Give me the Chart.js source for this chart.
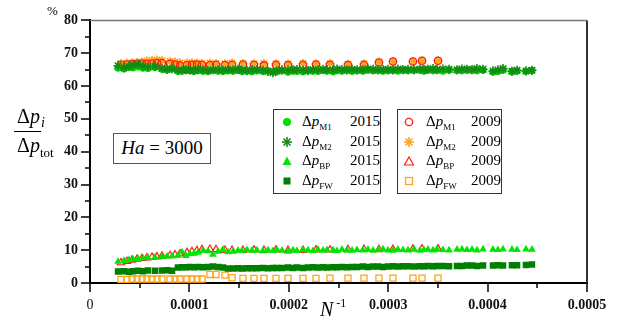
<!DOCTYPE html>
<html>
<head>
<meta charset="utf-8">
<script src="https://cdn.jsdelivr.net/npm/chart.js@4.4.1/dist/chart.umd.min.js"></script>
<style>
  body { margin: 0; background: #fff; }
  #wrap { position: relative; width: 621px; height: 320px; font-family: "Liberation Serif", "Times New Roman", serif; color: #000; }
  #wrap canvas { position: absolute; left: 0; top: 0; }
  .t { position: absolute; white-space: nowrap; }
  .box { position: absolute; box-sizing: border-box; border: 1.5px solid #333; background: #fff; }
  .sub { font-size: 9px; position: relative; top: 4px; }
  .mk { position: absolute; width: 12px; height: 12px; }
</style>
</head>
<body>
<div id="wrap">
  <canvas id="myChart" width="621" height="320"></canvas>

  <div class="t" style="left:47px;top:3px;font-size:13px">%</div>

  <!-- y axis title -->
  <div class="t" style="left:17px;top:106px;font-size:20px;line-height:20px">&Delta;<i>p</i><i style="font-size:14px;position:relative;top:4px;margin-left:1px">i</i></div>
  <div class="t" style="left:14px;top:131px;width:27px;height:1px;background:#000"></div>
  <div class="t" style="left:17px;top:135px;font-size:20px;line-height:20px">&Delta;<i>p</i><span style="font-size:13px;position:relative;top:5px">tot</span></div>

  <!-- x axis title -->
  <div class="t" style="left:320px;top:298px;font-size:20px;line-height:22px"><i>N</i><span style="font-size:12px;position:relative;top:-9px;margin-left:3px">-1</span></div>

  <!-- Ha box -->
  <div class="box" style="left:113px;top:133px;width:98px;height:31px;border-color:#555;text-align:center;line-height:28px;font-size:19px"><i>Ha</i> = 3000</div>

  <!-- legend 2015 -->
  <div class="box" style="left:273px;top:109px;width:108px;height:85px"></div>
  <!-- legend 2009 -->
  <div class="box" style="left:397px;top:109px;width:105px;height:85px"></div>

  <div class="t" style="left:606px;top:288px;width:15px;height:32px;background:#fff"></div>
</div>

<script>
// N^-1 values, 2015 series
const n2015 = [
  2.82e-5, 3.42e-5, 3.92e-5, 4.33e-5, 4.83e-5, 5.33e-5, 5.83e-5, 6.54e-5, 7.24e-5, 7.75e-5,
  8.25e-5, 8.85e-5, 9.26e-5, 9.66e-5, 10.06e-5, 10.46e-5, 10.86e-5, 11.37e-5, 11.87e-5, 12.37e-5,
  12.88e-5, 13.38e-5, 13.88e-5, 14.39e-5, 14.89e-5, 15.29e-5, 15.79e-5, 16.30e-5, 16.80e-5, 17.40e-5,
  17.91e-5, 18.41e-5, 18.81e-5, 19.32e-5, 19.92e-5, 20.42e-5, 20.82e-5, 21.43e-5, 21.93e-5, 22.43e-5,
  22.94e-5, 23.44e-5, 23.84e-5, 24.45e-5, 24.85e-5, 25.35e-5, 25.85e-5, 26.36e-5, 26.86e-5, 27.46e-5,
  27.97e-5, 28.47e-5, 28.97e-5, 29.48e-5, 29.98e-5, 30.48e-5, 30.98e-5, 31.49e-5, 31.99e-5, 32.59e-5,
  33.20e-5, 33.60e-5, 34.00e-5, 34.51e-5, 34.91e-5, 35.51e-5, 36.12e-5, 36.92e-5, 37.42e-5, 37.93e-5,
  38.43e-5, 38.93e-5, 39.54e-5, 40.54e-5, 41.04e-5, 41.55e-5, 42.45e-5, 42.96e-5, 43.86e-5, 44.46e-5
];
const m1_2015 = [
  65.5, 65.3, 65.8, 65.6, 65.9, 65.5, 65.4, 65.7, 65.2, 65.0,
  65.3, 64.5, 64.6, 64.8, 64.7, 64.5, 64.7, 64.6, 64.5, 64.8,
  64.6, 64.5, 64.7, 64.6, 64.8, 64.5, 64.6, 64.4, 64.7, 64.5,
  64.6, 64.4, 64.5, 64.7, 64.3, 64.6, 64.5, 64.4, 64.7, 64.6,
  64.5, 64.8, 64.6, 64.4, 64.7, 64.6, 64.8, 64.5, 64.7, 64.6,
  64.9, 64.7, 64.8, 64.6, 64.7, 64.8, 64.6, 64.8, 64.7, 64.9,
  64.8, 64.6, 64.9, 64.7, 64.8, 64.6, 64.9, 64.8, 64.7, 64.9,
  64.8, 64.7, 64.9, 64.3, 64.5, 64.8, 64.4, 64.6, 64.5, 64.7
];
const m2_2015 = [
  66.2, 65.6, 66.0, 66.4, 66.6, 66.1, 65.8, 66.0, 65.4, 65.1,
  65.3, 64.8, 64.9, 65.0, 64.9, 64.8, 65.1, 64.9, 64.7, 65.0,
  64.9, 64.8, 65.0, 64.9, 65.1, 64.8, 64.7, 64.9, 65.0, 64.8,
  64.5, 64.1, 64.6, 64.9, 64.8, 64.9, 65.0, 64.8, 64.7, 65.0,
  64.9, 65.1, 64.9, 64.8, 65.2, 65.0, 64.9, 65.1, 64.9, 65.0,
  65.2, 65.1, 64.9, 65.0, 65.1, 64.9, 65.2, 65.0, 65.1, 64.9,
  65.2, 65.0, 65.1, 65.3, 65.0, 65.2, 65.1, 64.9, 65.2, 65.1,
  65.0, 65.3, 65.1, 64.6, 64.9, 65.3, 64.5, 64.8, 64.6, 64.8
];
const bp_2015 = [
  6.5, 6.8, 7.0, 7.2, 7.4, 7.6, 7.7, 7.9, 8.0, 8.1,
  8.2, 8.4, 9.4, 8.3, 8.9, 9.0, 9.3, 9.9, 9.7, 8.7,
  9.6, 10.2, 9.4, 9.6, 9.9, 9.8, 10.1, 9.9, 10.0, 9.7,
  10.0, 9.8, 10.1, 9.9, 9.6, 10.0, 9.8, 10.1, 10.0, 9.8,
  10.2, 9.9, 10.1, 10.0, 9.8, 10.2, 10.0, 9.9, 10.1, 10.0,
  10.2, 9.9, 10.1, 10.3, 10.0, 9.9, 10.2, 10.1, 10.0, 10.3,
  9.9, 10.1, 10.2, 10.0, 10.3, 10.1, 10.0, 10.2, 10.3, 10.1,
  10.2, 10.0, 10.3, 10.2, 10.1, 10.3, 10.2, 10.1, 10.3, 10.2
];
const fw_2015 = [
  3.5, 3.6, 3.4, 3.6, 3.7, 3.6, 3.8, 3.7, 3.8, 3.9,
  3.7, 4.7, 4.8, 4.8, 4.9, 4.8, 4.9, 4.8, 4.9, 5.0,
  4.9, 4.7, 4.4, 4.4, 4.5, 4.4, 4.5, 4.5, 4.5, 4.6,
  4.5, 4.6, 4.6, 4.6, 4.7, 4.6, 4.7, 4.6, 4.7, 4.8,
  4.7, 4.8, 4.7, 4.8, 4.8, 4.9, 4.8, 4.9, 4.9, 5.0,
  4.9, 5.0, 5.0, 4.9, 5.0, 5.1, 5.0, 5.1, 5.1, 5.0,
  5.1, 5.1, 5.2, 5.1, 5.2, 5.2, 5.1, 5.2, 5.2, 5.3,
  5.3, 5.2, 5.3, 5.3, 5.4, 5.3, 5.4, 5.4, 5.5, 5.6
];

// N^-1 values, 2009 series
const n2009 = [
  3.12e-5, 3.72e-5, 4.23e-5, 4.73e-5, 5.23e-5, 5.73e-5, 6.24e-5, 6.74e-5, 7.24e-5, 8.05e-5,
  8.55e-5, 9.05e-5, 9.76e-5, 10.26e-5, 10.76e-5, 11.27e-5, 12.07e-5, 12.68e-5, 13.58e-5, 14.29e-5,
  15.39e-5, 16.50e-5, 17.50e-5, 18.71e-5, 19.92e-5, 21.43e-5, 22.74e-5, 24.14e-5, 25.95e-5, 27.56e-5,
  29.07e-5, 30.48e-5, 32.49e-5, 33.40e-5, 35.01e-5
];
const m1_2009 = [
  66.5, 66.6, 66.7, 66.8, 66.9, 66.8, 66.9, 67.0, 67.0, 66.8,
  66.6, 66.3, 66.4, 66.5, 66.6, 66.5, 66.4, 66.5, 66.4, 66.5,
  66.6, 66.5, 66.3, 66.5, 66.4, 66.5, 66.6, 66.5, 66.4, 66.5,
  67.2, 67.5, 67.5, 67.7, 67.7
];
const m2_2009 = [
  66.9, 67.0, 67.1, 67.2, 67.3, 67.6, 67.8, 67.9, 67.8, 67.5,
  67.3, 67.1, 67.0, 67.1, 67.0, 66.9, 67.0, 66.9, 66.8, 67.0,
  66.9, 66.8, 66.9, 66.8, 66.7, 66.9, 66.8, 66.9, 66.7, 66.8,
  67.3, 67.5, 67.5, 67.7, 67.7
];
const bp_2009 = [
  6.2, 6.6, 7.0, 7.3, 7.5, 7.7, 7.9, 8.0, 8.2, 8.4,
  8.6, 8.9, 9.3, 9.6, 9.9, 10.2, 10.3, 10.2, 10.0, 10.0,
  10.0, 10.1, 10.0, 10.1, 10.0, 10.0, 10.1, 10.1, 10.2, 10.3,
  10.2, 10.3, 10.4, 10.4, 10.4
];
const fw_2009 = [
  1.1, 1.1, 1.2, 1.2, 1.2, 1.2, 1.2, 1.2, 1.2, 1.2,
  1.2, 1.2, 1.2, 1.2, 1.2, 1.2, 2.6, 2.6, 2.4, 1.6,
  1.4, 1.4, 1.4, 1.4, 1.4, 1.4, 1.4, 1.5, 1.5, 1.5,
  1.5, 1.5, 1.5, 1.5, 1.5
];

// ticks
const xTicks = [0, 0.0001, 0.0002, 0.0003, 0.0004, 0.0005];
const xMinor = [0.00005, 0.00015, 0.00025, 0.00035, 0.00045];
const yTicks = [0, 10, 20, 30, 40, 50, 60, 70, 80];
const yMinor = [5, 15, 25, 35, 45, 55, 65, 75];

// legend rows
const legendRows = [
  { sub: 'M1', y2015: '2015', y2009: '2009' },
  { sub: 'M2', y2015: '2015', y2009: '2009' },
  { sub: 'BP', y2015: '2015', y2009: '2009' },
  { sub: 'FW', y2015: '2015', y2009: '2009' }
];

const pts = (xs, ys) => xs.map((x, i) => ({ x: x, y: ys[i] }));

/* legend html */
const markers2015 = [
  '<circle cx="6" cy="6" r="4" fill="#00e000"/>',
  '<g stroke="#118a11" stroke-width="1.6"><line x1="6" y1="1" x2="6" y2="11"/><line x1="1" y1="6" x2="11" y2="6"/><line x1="2.5" y1="2.5" x2="9.5" y2="9.5"/><line x1="9.5" y1="2.5" x2="2.5" y2="9.5"/></g>',
  '<polygon points="6,1.5 10.5,10 1.5,10" fill="#00e600"/>',
  '<rect x="2.5" y="2.5" width="7" height="7" fill="#007f00"/>'
];
const markers2009 = [
  '<circle cx="6" cy="6" r="3.7" fill="none" stroke="#ff1a1a" stroke-width="1.3"/>',
  '<g stroke="#ffa31a" stroke-width="1.6"><line x1="6" y1="1" x2="6" y2="11"/><line x1="1" y1="6" x2="11" y2="6"/><line x1="2.5" y1="2.5" x2="9.5" y2="9.5"/><line x1="9.5" y1="2.5" x2="2.5" y2="9.5"/></g>',
  '<polygon points="6,2 10.5,10 1.5,10" fill="none" stroke="#ff1a1a" stroke-width="1.2"/>',
  '<rect x="2.5" y="2.5" width="7" height="7" fill="none" stroke="#ffa31a" stroke-width="1.3"/>'
];
const rowY = [122, 141.5, 161, 180.5];
const wrap = document.getElementById('wrap');
legendRows.forEach((row, i) => {
  const c = rowY[i];
  const html = `
    <svg class="mk" style="left:${287 - 6}px;top:${c - 6}px" viewBox="0 0 12 12">${markers2015[i]}</svg>
    <div class="t" style="left:302px;top:${c - 11}px;font-size:15px;line-height:20px">&Delta;<i>p</i><span class="sub">${row.sub}</span></div>
    <div class="t" style="left:344px;width:36px;text-align:right;top:${c - 11}px;font-size:15px;line-height:20px">${row.y2015}</div>
    <svg class="mk" style="left:${409 - 6}px;top:${c - 6}px" viewBox="0 0 12 12">${markers2009[i]}</svg>
    <div class="t" style="left:426px;top:${c - 11}px;font-size:15px;line-height:20px">&Delta;<i>p</i><span class="sub">${row.sub}</span></div>
    <div class="t" style="left:464px;width:37px;text-align:right;top:${c - 11}px;font-size:15px;line-height:20px">${row.y2009}</div>`;
  wrap.insertAdjacentHTML('beforeend', html);
});

/* frame + tick marks */
const frame = {
  id: 'frame',
  afterDraw(chart) {
    const { ctx, chartArea: a, scales: { x, y } } = chart;
    ctx.save();
    ctx.lineWidth = 1.5;
    ctx.strokeStyle = '#777';
    ctx.beginPath(); ctx.moveTo(a.left, a.top); ctx.lineTo(a.right, a.top); ctx.stroke();
    ctx.strokeStyle = '#333';
    ctx.lineWidth = 2;
    ctx.beginPath(); ctx.moveTo(a.right, a.top); ctx.lineTo(a.right, a.bottom); ctx.stroke();
    ctx.strokeStyle = '#000';
    ctx.lineWidth = 1.5;
    const tick = (x1, y1, x2, y2) => { ctx.beginPath(); ctx.moveTo(x1, y1); ctx.lineTo(x2, y2); ctx.stroke(); };
    yTicks.forEach(v => { const p = Math.round(y.getPixelForValue(v)); tick(a.left - 9, p, a.left, p); });
    yMinor.forEach(v => { const p = Math.round(y.getPixelForValue(v)); tick(a.left - 5, p, a.left, p); });
    xTicks.forEach(v => { const p = Math.round(x.getPixelForValue(v)); tick(p, a.bottom, p, a.bottom + 9); });
    xMinor.forEach(v => { const p = Math.round(x.getPixelForValue(v)); tick(p, a.bottom, p, a.bottom + 5); });
    ctx.restore();
  }
};

const serif = "'Liberation Serif', 'Times New Roman', serif";
Chart.defaults.font.family = serif;
Chart.defaults.font.size = 14;

const ctx = document.getElementById('myChart');
const myChart = new Chart(ctx, {
  type: 'scatter',
  data: {
    datasets: [
      { label: 'FW 2009', data: pts(n2009, fw_2009), pointStyle: 'rect', pointRadius: 4.3, borderColor: '#ffa31a', backgroundColor: 'rgba(0,0,0,0)', borderWidth: 1.3, order: 8 },
      { label: 'BP 2009', data: pts(n2009, bp_2009), pointStyle: 'triangle', pointRadius: 4.2, borderColor: '#ff1a1a', backgroundColor: 'rgba(0,0,0,0)', borderWidth: 1.2, order: 7 },
      { label: 'M2 2009', data: pts(n2009, m2_2009), pointStyle: 'star', pointRadius: 4.5, borderColor: '#ffa31a', backgroundColor: '#ffa31a', borderWidth: 1.6, order: 6 },
      { label: 'M1 2009', data: pts(n2009, m1_2009), pointStyle: 'circle', pointRadius: 3.6, borderColor: '#ff1a1a', backgroundColor: 'rgba(0,0,0,0)', borderWidth: 1.3, order: 5 },
      { label: 'FW 2015', data: pts(n2015, fw_2015), pointStyle: 'rect', pointRadius: 4.6, borderColor: '#007f00', backgroundColor: '#007f00', borderWidth: 0, order: 4 },
      { label: 'BP 2015', data: pts(n2015, bp_2015), pointStyle: 'triangle', pointRadius: 4.4, borderColor: '#00e600', backgroundColor: '#00e600', borderWidth: 0, order: 3 },
      { label: 'M1 2015', data: pts(n2015, m1_2015), pointStyle: 'circle', pointRadius: 3.8, borderColor: '#00e000', backgroundColor: '#00e000', borderWidth: 0, order: 2 },
      { label: 'M2 2015', data: pts(n2015, m2_2015), pointStyle: 'star', pointRadius: 4.6, borderColor: '#138c13', backgroundColor: '#138c13', borderWidth: 1.6, order: 1 }
    ]
  },
  options: {
    responsive: false,
    animation: false,
    devicePixelRatio: 1,
    layout: { padding: { left: 0, right: 34, top: 10, bottom: 0 } },
    plugins: {
      legend: { display: false },
      tooltip: { enabled: false }
    },
    scales: {
      x: {
        type: 'linear',
        min: 0,
        max: 0.0005,
        afterBuildTicks: (s) => { s.ticks = xTicks.map(v => ({ value: v })); },
        afterFit: (s) => { s.height = 37; },
        grid: { display: true, drawOnChartArea: false, drawTicks: false },
        border: { display: true, color: '#000', width: 2 },
        ticks: {
          padding: 14,
          color: '#111',
          maxRotation: 0,
          autoSkip: false,
          font: (c) => ({ family: serif, size: 14, weight: c.tick && c.tick.value === 0 ? 'normal' : 'bold' }),
          callback: (v) => (v === 0 ? '0' : Number(v).toFixed(4))
        }
      },
      y: {
        min: 0,
        max: 80,
        afterBuildTicks: (s) => { s.ticks = yTicks.map(v => ({ value: v })); },
        afterFit: (s) => { s.width = 90; },
        grid: { display: true, drawOnChartArea: false, drawTicks: false },
        border: { display: true, color: '#000', width: 2 },
        ticks: {
          padding: 12,
          color: '#111',
          autoSkip: false,
          font: { family: serif, size: 14, weight: 'bold' }
        }
      }
    }
  },
  plugins: [frame]
});
</script>
</body>
</html>
